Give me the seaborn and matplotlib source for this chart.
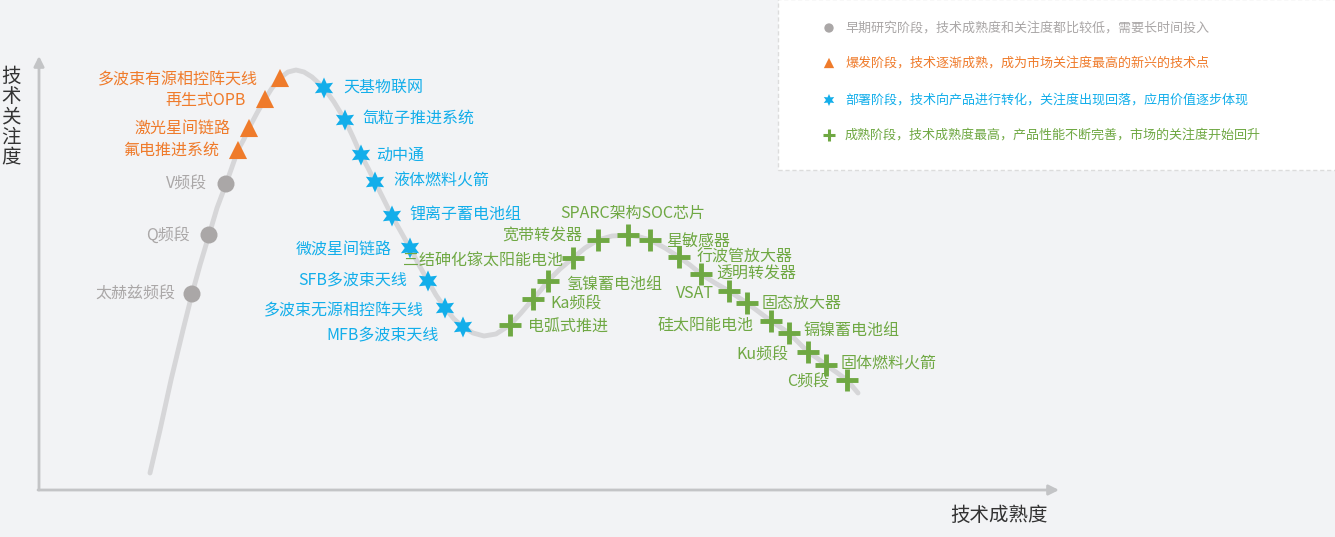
import matplotlib
matplotlib.use("Agg")
import matplotlib.pyplot as plt
from matplotlib.patches import Rectangle
import seaborn as sns
import pandas as pd

# hype-curve trace: technology maturity (x) vs. attention (y)
curve_maturity = [111, 121, 132, 144, 153, 161, 170, 178, 187,
                  193, 199, 205, 210, 218, 226, 233, 241, 249, 257,
                  265, 273, 285, 295, 306, 314, 322, 329, 336, 344,
                  353, 362, 371, 380, 389, 397, 406, 415, 424, 434,
                  445, 457, 471, 482, 494, 502, 509, 521, 534, 546,
                  559, 573, 589, 601, 611, 626, 640, 651, 662, 676,
                  690, 699, 708, 720, 732, 741, 750, 759, 769, 778,
                  787, 797, 808, 819]
curve_attention = [17, 60, 110, 160, 196, 225, 255, 282, 306,
                   323, 340, 351, 362, 377, 391, 402, 412, 418, 420,
                   418, 413, 402, 388, 370, 353, 335, 322, 308, 292,
                   274, 258, 242, 225, 209, 195, 182, 171, 163, 157,
                   154, 156, 165, 177, 191, 200, 209, 221, 232, 242,
                   250, 254, 255, 253, 250, 242, 233, 225, 216, 207,
                   199, 193, 187, 178, 169, 163, 157, 148, 138, 132,
                   125, 118, 110, 97]

stage_names = ["早期研究阶段，技术成熟度和关注度都比较低，需要长时间投入",
               "爆发阶段，技术逐渐成熟，成为市场关注度最高的新兴的技术点",
               "部署阶段，技术向产品进行转化，关注度出现回落，应用价值逐步体现",
               "成熟阶段，技术成熟度最高，产品性能不断完善，市场的关注度开始回升"]

early_tech = ["太赫兹频段", "Q频段", "V频段"]
early_x = [153, 170, 187]
early_y = [196, 255, 306]

burst_tech = ["多波束有源相控阵天线", "再生式OPB", "激光星间链路", "氟电推进系统"]
burst_x = [241, 226, 210, 199]
burst_y = [412, 391, 362, 340]

deploy_tech = ["天基物联网", "氙粒子推进系统", "动中通", "液体燃料火箭", "锂离子蓄电池组",
               "微波星间链路", "SFB多波束天线", "多波束无源相控阵天线", "MFB多波束天线"]
deploy_x = [285, 306, 322, 336, 353, 371, 389, 406, 424]
deploy_y = [402, 370, 335, 308, 274, 242, 209, 182, 163]

mature_tech = ["电弧式推进", "Ka频段", "氢镍蓄电池组", "三结砷化镓太阳能电池", "宽带转发器",
               "SPARC架构SOC芯片", "星敏感器", "行波管放大器", "透明转发器", "VSAT",
               "固态放大器", "硅太阳能电池", "镉镍蓄电池组", "Ku频段", "固体燃料火箭", "C频段"]
mature_x = [471, 494, 509, 534, 559, 589, 611, 640, 662, 690, 708, 732, 750, 769, 787, 808]
mature_y = [165, 191, 209, 232, 250, 255, 250, 233, 216, 199, 187, 169, 157, 138, 125, 110]

# label placement (pixel offsets: dx, dy up; side)
early_lbl = [(-17, 0, "left"), (-19, 0, "left"), (-19, 0, "left")]
burst_lbl = [(-22, -2, "left"), (-19, -1, "left"), (-19, 0, "left"), (-19, 0, "left")]
deploy_lbl = [(19, 1, "right"), (17, 2, "right"), (15, 0, "right"), (18, 1, "right"),
              (17, 1, "right"), (-18, -2, "left"), (-21, 0, "left"), (-21, -3, "left"),
              (-24, -9, "left")]
mature_lbl = [(18, -2, "right"), (17, -5, "right"), (18, -4, "right"), (-10, -3, "left"),
              (-16, 4, "left"), (5, 22, "center"), (16, -1, "right"), (18, 0, "right"),
              (15, 0, "right"), (-15, -2, "left"), (15, 0, "right"), (-18, -4, "left"),
              (15, 2, "right"), (-19, -3, "left"), (15, 2, "right"), (-18, -2, "left")]

GRAY, ORANGE, BLUE, GREEN = "#aaa7a7", "#ef7b2b", "#13aeea", "#6fa843"
BG = "#f2f3f5"

sns.set_style("white")
plt.rcParams["font.family"] = ["Noto Sans CJK SC", "DejaVu Sans"]

fig = plt.figure(figsize=(13.35, 5.37), dpi=100, facecolor=BG)
ax = fig.add_axes([0, 0, 1, 1])
ax.set_facecolor(BG)
ax.set_xlim(-39, 1296)
ax.set_ylim(-47, 490)
ax.axis("off")

# axes arrows
arrow_kw = dict(arrowstyle="-|>,head_length=0.6,head_width=0.3", color="#c3c4c6", lw=2,
                shrinkA=0, shrinkB=0)
ax.annotate("", xy=(0, 434), xytext=(0, 0), arrowprops=arrow_kw)
ax.annotate("", xy=(1020, 0), xytext=(-1, 0), arrowprops=arrow_kw)
ax.text(960, -25, "技术成熟度", ha="center", va="center", fontsize=14, color="#333333")
ax.text(-28, 373, "技\n术\n关\n注\n度", ha="center", va="center", fontsize=14,
        color="#333333", linespacing=0.95)

# curve
curve = pd.DataFrame({"maturity": curve_maturity, "attention": curve_attention})
sns.lineplot(data=curve, x="maturity", y="attention", sort=False, color="#d6d6d8",
             lw=3.5, ax=ax, solid_capstyle="round")

groups = [
    (early_tech, early_x, early_y, early_lbl, GRAY, "o", 150, 0),
    (burst_tech, burst_x, burst_y, burst_lbl, ORANGE, "^", 170, 0),
    (deploy_tech, deploy_x, deploy_y, deploy_lbl, BLUE, (6, 1, 0), 230, 0),
    (mature_tech, mature_x, mature_y, mature_lbl, GREEN, "+", 230, 3.5),
]
for names, xs, ys, lbls, col, mk, sz, lw in groups:
    df = pd.DataFrame({"maturity": xs, "attention": ys})
    if mk == "+":
        sns.scatterplot(data=df, x="maturity", y="attention", marker=mk, s=sz, color=col,
                        linewidth=lw, ax=ax, zorder=3)
    else:
        sns.scatterplot(data=df, x="maturity", y="attention", marker=mk, s=sz, color=col,
                        edgecolor="none", ax=ax, zorder=3)
    for name, x, y, (dx, dy, side) in zip(names, xs, ys, lbls):
        ha = {"left": "right", "right": "left", "center": "center"}[side]
        ax.annotate(name, (x, y), xytext=(dx * 0.72, dy * 0.72), textcoords="offset points",
                    ha=ha, va="center", fontsize=11.5, color=col, zorder=4)

# legend box
ax.add_patch(Rectangle((739, 320), 600, 171, facecolor="white", edgecolor="#dcdcdc",
                       lw=1, ls=(0, (3, 2)), zorder=5))
leg_y = [462, 427, 390, 355]
leg_style = [(GRAY, "o", 45, 0), (ORANGE, "^", 55, 0), (BLUE, (6, 1, 0), 75, 0),
             (GREEN, "+", 70, 2.2)]
for name, y, (col, mk, sz, lw) in zip(stage_names, leg_y, leg_style):
    if mk == "+":
        ax.scatter([790], [y], marker=mk, s=sz, color=col, linewidths=lw, zorder=6)
    else:
        ax.scatter([790], [y], marker=mk, s=sz, color=col, edgecolors="none", zorder=6)
    ax.text(806, y, name, ha="left", va="center", fontsize=9.4, color=col, zorder=6)

fig.savefig("out.png", dpi=100, facecolor=BG)
